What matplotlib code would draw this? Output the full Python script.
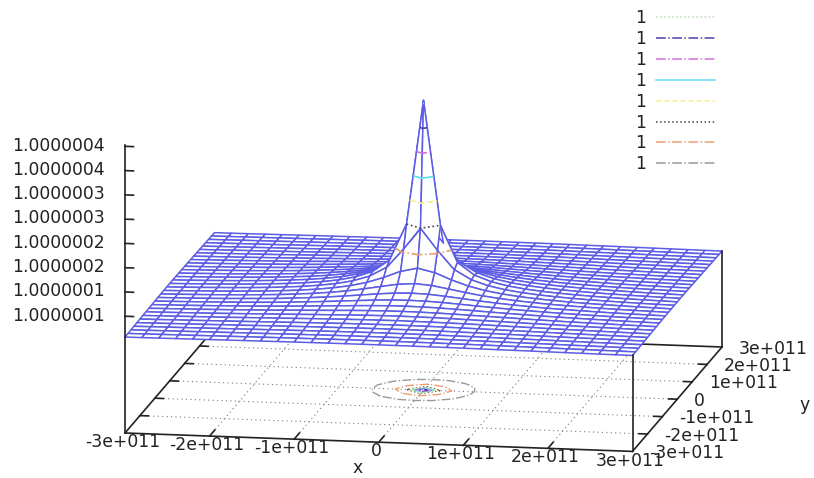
#!/usr/bin/python3
import numpy as np
import matplotlib
matplotlib.use('Agg')
import matplotlib.pyplot as plt
from matplotlib.lines import Line2D
from mpl_toolkits.mplot3d import proj3d

plt.rcParams['font.family'] = ['DejaVu Sans']

W, H = 814, 478
FS = 12.4

# surface height above 1, in units of 1e-7, read for one quarter of the grid
# (rows and columns run from the centre out to the edge), grid step is 2e10
quarter = [
    [4.06, 1.5, .75, .5, .375, .3, .25, .214, .188, .167, .15, .136, .125, .115, .107, .1],
    [1.5, 1.06, .67, .474, .364, .294, .247, .212, .186, .165, .149, .136, .125, .115, .107, .0998],
    [.75, .67, .53, .416, .335, .279, .237, .206, .182, .162, .147, .134, .123, .114, .106, .099],
    [.5, .474, .416, .354, .3, .257, .224, .197, .175, .158, .144, .131, .121, .113, .105, .098],
    [.375, .364, .335, .3, .265, .234, .208, .185, .166, .152, .139, .127, .118, .11, .103, .097],
    [.3, .294, .279, .257, .234, .212, .192, .174, .159, .146, .134, .124, .115, .108, .101, .095],
    [.25, .247, .237, .224, .208, .192, .177, .163, .15, .139, .129, .12, .112, .105, .099, .093],
    [.214, .212, .206, .197, .185, .174, .163, .152, .141, .131, .122, .115, .108, .101, .096, .09],
    [.188, .186, .182, .175, .166, .159, .15, .141, .133, .125, .117, .11, .104, .098, .093, .088],
    [.167, .165, .162, .158, .152, .146, .139, .131, .125, .118, .111, .105, .1, .095, .09, .086],
    [.15, .149, .147, .144, .139, .134, .129, .122, .117, .111, .106, .101, .096, .092, .087, .083],
    [.136, .136, .134, .131, .127, .124, .12, .115, .11, .105, .101, .096, .092, .088, .084, .08],
    [.125, .125, .123, .121, .118, .115, .112, .108, .104, .1, .096, .092, .088, .085, .081, .078],
    [.115, .115, .114, .113, .11, .108, .105, .101, .098, .095, .092, .088, .085, .082, .078, .075],
    [.107, .107, .106, .105, .103, .101, .099, .096, .093, .09, .087, .084, .081, .078, .076, .073],
    [.1, .0998, .099, .098, .097, .095, .093, .09, .088, .086, .083, .08, .078, .075, .073, .071],
]
axis_ticks = [-3e11, -2e11, -1e11, 0, 1e11, 2e11, 3e11]
x_labels = ['-3e+011', '-2e+011', '-1e+011', '0', '1e+011', '2e+011', '3e+011']
y_labels = x_labels
z_ticks = [.5, 1, 1.5, 2, 2.5, 3, 3.5, 4]
z_labels = ['1.0000001', '1.0000001', '1.0000002', '1.0000002',
            '1.0000003', '1.0000003', '1.0000004', '1.0000004']
levels = [.5, 1, 1.5, 2, 2.5, 3, 3.5, 4]
level_colors = ['#999999', '#e8a070', '#444444', '#f5ee90', '#60dcf0', '#d070d8', '#4a40b0', '#b8dcb0']
level_styles = ['dashdot', 'dashdot', 'dotted', 'dashed', 'solid', 'dashdot', 'dashdot', 'dotted']
level_names = ['1'] * 8

ZBASE, ZTOP = -1.905, 4.02
BLUE = '#5c5ce4'

q = np.array(quarter)
Z = np.vstack([np.hstack([q[::-1, :0:-1], q[::-1, :]]),
               np.hstack([q[1:, :0:-1], q[1:, :]])])
grid = np.linspace(-3e11, 3e11, 31)
X, Y = np.meshgrid(grid, grid)

fig = plt.figure(figsize=(W / 100, H / 100), dpi=100)
ax = fig.add_subplot(projection='3d', proj_type='ortho', computed_zorder=False)
ax.set_xlim(-3e11, 3e11)
ax.set_ylim(-3e11, 3e11)
ax.set_zlim(ZBASE, 4.06)
ax.view_init(elev=30, azim=-80)
ax.set_box_aspect((1, 1, 1.577), zoom=0.5)
ax.set_axis_off()

# stretch the 3d box so the two base corners land where they do in the picture
# (gnuplot scales screen x and y separately, mplot3d wants a square box)
ax.apply_aspect = lambda position=None: None
M = ax.get_proj()
px, py, _ = proj3d.proj_transform(np.array([-3e11, 3e11]), np.array([-3e11, 3e11]),
                                  np.array([ZBASE, ZBASE]), M)
vx0, vx1 = ax.viewLim.intervalx
vy0, vy1 = ax.viewLim.intervaly
sx = (722 - 125) / (px[1] - px[0])
sy = (433 - 347) / (py[1] - py[0])
left = 125 - (px[0] - vx0) * sx
bottom = (H - 433) - (py[0] - vy0) * sy
ax.set_position([left / W, bottom / H, (vx1 - vx0) * sx / W, (vy1 - vy0) * sy / H])


def line3(xs, ys, zs, **kw):
    ax.plot(xs, ys, zs, **kw)


# base grid
for t in axis_ticks[1:-1]:
    line3([t, t], [-3e11, 3e11], [ZBASE, ZBASE], color='#777777', lw=0.8, ls=(0, (1, 3)), zorder=1)
    line3([-3e11, 3e11], [t, t], [ZBASE, ZBASE], color='#777777', lw=0.8, ls=(0, (1, 3)), zorder=1)

# base border and ticks
border = dict(color='#222222', lw=1.2, zorder=2)
line3([-3e11, 3e11], [-3e11, -3e11], [ZBASE, ZBASE], **border)
line3([3e11, 3e11], [-3e11, 3e11], [ZBASE, ZBASE], **border)
line3([-3e11, -3e11], [-3e11, 3e11], [ZBASE, ZBASE], **border)
line3([-3e11, 3e11], [3e11, 3e11], [ZBASE, ZBASE], **border)
for t in axis_ticks[1:-1]:
    line3([t, t], [-3e11, -2.65e11], [ZBASE, ZBASE], **border)
    line3([-3e11, -2.9e11], [t, t], [ZBASE, ZBASE], **border)
    line3([3e11, 2.9e11], [t, t], [ZBASE, ZBASE], **border)

ax.contour(X, Y, Z, levels=levels, colors=level_colors, linestyles=level_styles,
           linewidths=1.0, zdir='z', offset=ZBASE, zorder=3)

ax.plot_surface(X, Y, Z, rstride=1, cstride=1, color='white', edgecolor=BLUE,
                linewidth=1.1, shade=False, zorder=4)

# only the front half of each contour shows on the surface
ax.contour(X[:16], Y[:16], Z[:16], levels=levels[1:], colors=level_colors[1:],
           linestyles=level_styles[1:], linewidths=1.2, zorder=5)

# verticals and z ticks, these stay on top of the surface
line3([-3e11, -3e11], [-3e11, -3e11], [ZBASE, ZTOP], **dict(border, zorder=6))
line3([3e11, 3e11], [-3e11, -3e11], [ZBASE, Z[0, -1]], **dict(border, zorder=6))
line3([3e11, 3e11], [3e11, 3e11], [ZBASE, Z[-1, -1]], **dict(border, zorder=6))
for t in z_ticks:
    line3([-3e11, -2.9e11], [-3e11, -3e11], [t, t], **dict(border, zorder=6))

for t, lab in zip(axis_ticks, x_labels):
    ax.text(t - 0.03e11, -3e11, ZBASE - 0.19, lab, fontsize=FS, color='#222222', ha='center', va='center')
for t, lab in zip(axis_ticks, y_labels):
    ax.text(3.2e11, t, ZBASE - 0.02, lab, fontsize=FS, color='#222222', ha='left', va='center')
for t, lab in zip(z_ticks, z_labels):
    ax.text(-3.24e11, -3e11, t, lab, fontsize=FS, color='#222222', ha='right', va='center')
fig.text(358 / W, 1 - 468 / H, 'x', fontsize=FS, color='#222222', ha='center', va='center')
fig.text(805 / W, 1 - 405 / H, 'y', fontsize=FS, color='#222222', ha='center', va='center')

handles = [Line2D([], [], color=c, ls=s, lw=1.1)
           for c, s in zip(level_colors[::-1], level_styles[::-1])]
fig.legend(handles, level_names, loc='upper left', bbox_to_anchor=(628 / W, 1 - 2 / H),
           frameon=False, markerfirst=False, fontsize=FS, labelcolor='#222222',
           handlelength=3.4, handletextpad=0.6, labelspacing=0.17, borderaxespad=0)

fig.savefig('out.png', dpi=100)
